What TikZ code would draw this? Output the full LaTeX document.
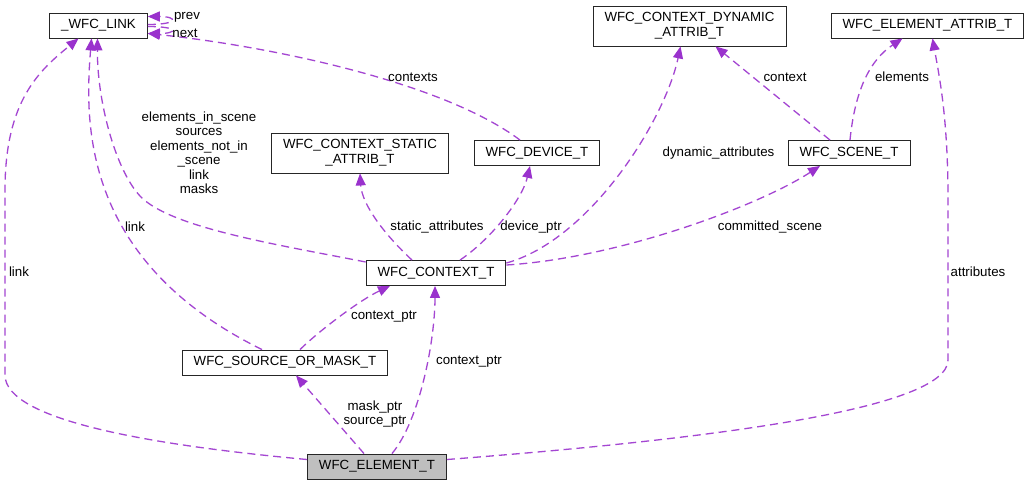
\documentclass[tikz,border=0pt]{standalone}
\usepackage{fontspec}
\setmainfont{Liberation Sans}
\usepackage{tikz}
\usetikzlibrary{arrows.meta}
\definecolor{dxpurple}{HTML}{9A32CD}
\definecolor{dxgray}{HTML}{BFBFBF}

\begin{document}
\begin{tikzpicture}[x=1pt, y=-1pt,
  every node/.style={font=\fontsize{13.3}{15}\selectfont},
  cls/.style={draw=black!85, line width=0.9pt, fill=white, inner xsep=11.5pt, inner ysep=2pt, minimum height=25pt, align=center},
  cls2/.style={cls, minimum height=40pt},
  usage/.style={dxpurple!90, line width=1.3pt, dash pattern=on 8pt off 5pt, -{Triangle[length=12pt,width=10pt,fill=dxpurple,color=dxpurple]}},
  lbl/.style={inner sep=0pt, align=center}]
  \fill[white] (0,0) rectangle (1030,485);
  \useasboundingbox (0,0) rectangle (1030,485);

  % Classes
  \node[cls] (link) at (98.5,25.5) {\_WFC\_LINK};
  \node[cls2] (static) at (360,153) {WFC\_CONTEXT\_STATIC\\\_ATTRIB\_T};
  \node[cls] (device) at (537,153) {WFC\_DEVICE\_T};
  \node[cls2] (dynamic) at (689.5,26) {WFC\_CONTEXT\_DYNAMIC\\\_ATTRIB\_T};
  \node[cls] (eattr) at (927.5,25.5) {WFC\_ELEMENT\_ATTRIB\_T};
  \node[cls] (scene) at (849,153) {WFC\_SCENE\_T};
  \node[cls] (ctx) at (436,273) {WFC\_CONTEXT\_T};
  \node[cls] (som) at (285,362.5) {WFC\_SOURCE\_OR\_MASK\_T};
  \node[cls, fill=dxgray] (elem) at (377,466.5) {WFC\_ELEMENT\_T};

  % Self loops on _WFC_LINK
  \draw[usage] ([yshift=1pt]link.east) .. controls +(32,0) and +(30,0) .. ([yshift=9pt]link.east);
  \draw[usage] ([yshift=-1pt]link.east) .. controls +(32,0) and +(30,0) .. ([yshift=-8pt]link.east);

  % Usage edges
  \draw[usage] ([xshift=-17pt]device.north) .. controls (440,80) and (260,45) .. ([yshift=-8pt]link.east);
  \draw[usage] ([yshift=11pt]ctx.west) .. controls (280,245) and (170,228) .. (140,196)
    .. controls (115,169) and (97,100) .. ([xshift=-1pt]link.south);
  \draw[usage] ([xshift=-23pt]som.north) .. controls (80,260) and (85,120) .. ([xshift=-7pt]link.south);
  \draw[usage] ([yshift=7pt]elem.west) .. controls (150,445) and (5,420) .. (5,375) -- (5,190)
    .. controls (5,100) and (40,70) .. ([xshift=-20pt]link.south);
  \draw[usage] ([xshift=-24pt]ctx.north) .. controls (385,235) and (362,205) .. (static.south);
  \draw[usage] ([xshift=24pt]ctx.north) .. controls (490,240) and (522,200) .. ([xshift=-7pt]device.south);
  \draw[usage] ([yshift=10pt]ctx.east) .. controls (590,240) and (665,120) .. ([xshift=-9pt]dynamic.south);
  \draw[usage] ([yshift=8pt]ctx.east) .. controls (620,258) and (760,205) .. ([xshift=-29pt]scene.south);
  \draw[usage] ([xshift=-19pt]scene.north) -- ([xshift=26pt]dynamic.south);
  \draw[usage] ([xshift=1pt]scene.north) .. controls (855,90) and (870,60) .. ([xshift=-25pt]eattr.south);
  \draw[usage] ([yshift=7pt]elem.east) .. controls (700,440) and (948,410) .. (948,360) -- (948,200)
    .. controls (948,120) and (940,80) .. ([xshift=5pt]eattr.south);
  \draw[usage] ([xshift=15pt]elem.north) .. controls (420,420) and (435,340) .. ([xshift=-1pt]ctx.south);
  \draw[usage] ([xshift=-13pt]elem.north) -- ([xshift=11pt]som.south);
  \draw[usage] ([xshift=15pt]som.north) .. controls (320,330) and (360,300) .. ([xshift=-46pt]ctx.south);

  % Labels
  \node[lbl] (lprev) at (187,17) {prev};
  \node[lbl] (lnext) at (185,33) {next};
  \node[lbl] (lcontexts) at (413,77) {contexts};
  \node[lbl, font=\fontsize{13.3}{14.5}\selectfont] (llist) at (199,152.5)
    {elements\_in\_scene\\sources\\elements\_not\_in\\\_scene\\link\\masks};
  \node[lbl] (llinksom) at (135,227) {link};
  \node[lbl] (llinkelem) at (19,272) {link};
  \node[lbl] (lstatic) at (437,227) {static\_attributes};
  \node[lbl] (ldevice) at (531,227) {device\_ptr};
  \node[lbl] (ldynamic) at (718.5,153) {dynamic\_attributes};
  \node[lbl] (lcommitted) at (770,227) {committed\_scene};
  \node[lbl] (lcontext) at (785,77) {context};
  \node[lbl] (lelements) at (902,77) {elements};
  \node[lbl] (lattributes) at (978,272) {attributes};
  \node[lbl] (lctxelem) at (469,362) {context\_ptr};
  \node[lbl] (lctxsom) at (384,317) {context\_ptr};
  \node[lbl, font=\fontsize{13.3}{14}\selectfont] (lmask) at (375,414) {mask\_ptr\\source\_ptr};
\end{tikzpicture}
\end{document}
